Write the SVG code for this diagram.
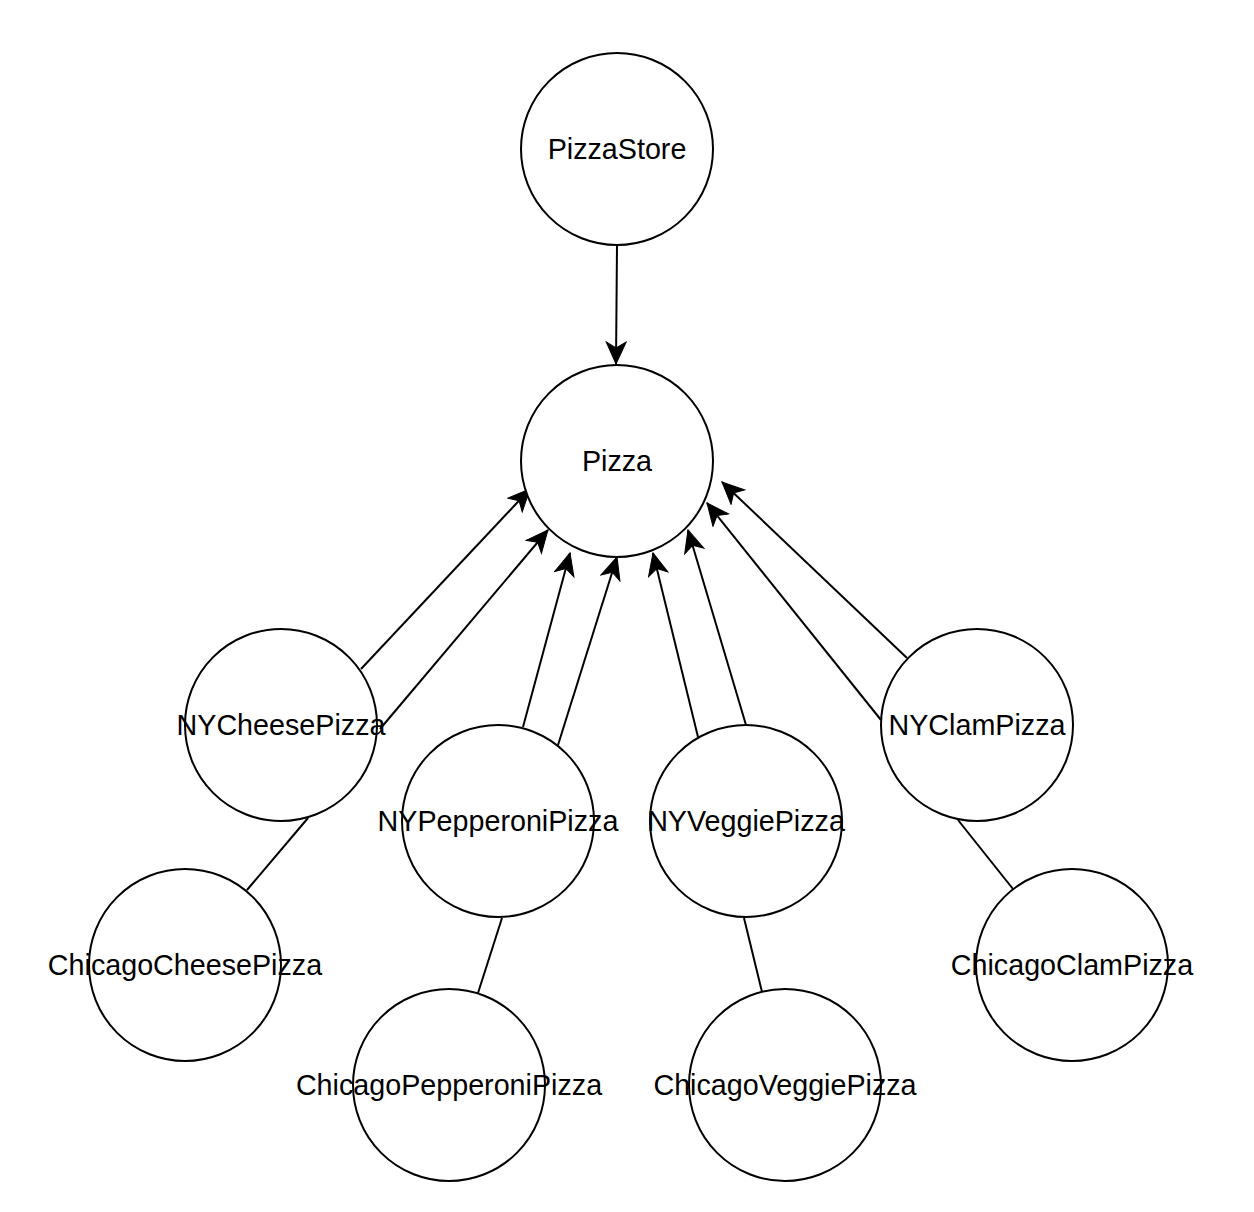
<svg xmlns="http://www.w3.org/2000/svg" width="1254" height="1212" viewBox="0 0 1254 1212">
<style>
.n{fill:#fff;stroke:#000;stroke-width:2}
.t{font-family:"Liberation Sans",Arial,sans-serif;font-size:28.7px;fill:#000;text-anchor:middle}
.e{stroke:#000;stroke-width:2;fill:none}
.a{marker-end:url(#arr)}
</style>
<defs>
<marker id="arr" markerUnits="userSpaceOnUse" markerWidth="24" markerHeight="22" viewBox="0 0 24 22" refX="23" refY="11" orient="auto">
<path d="M1,1 L23,11 L1,21 L7,11 Z" fill="#000" stroke="#000" stroke-width="1"/>
</marker>
</defs>
<rect width="1254" height="1212" fill="#fff"/>
<g id="connectors">
<path class="e a" d="M617,245 L616,364"/>
<path class="e a" d="M361,669 L530,489"/>
<path class="e a" d="M380,729 L548,530"/>
<path class="e a" d="M523,727 L570,553"/>
<path class="e a" d="M558,745 L617,557"/>
<path class="e a" d="M698,737 L653,553"/>
<path class="e a" d="M746,725 L688,530"/>
<path class="e a" d="M907,658 L722,482"/>
<path class="e a" d="M881,720 L707,503"/>
<path class="e" d="M308,818 L247,890"/>
<path class="e" d="M502,918 L478,993"/>
<path class="e" d="M744,918 L762,992"/>
<path class="e" d="M958,820 L1013,889"/>
</g>
<g id="PizzaStore"><circle class="n" cx="617" cy="149" r="96"/><text class="t" x="617" y="159">PizzaStore</text></g>
<g id="Pizza"><circle class="n" cx="617" cy="461" r="96"/><text class="t" x="617" y="471">Pizza</text></g>
<g id="NYCheesePizza"><circle class="n" cx="281" cy="725" r="96"/><text class="t" x="281" y="735">NYCheesePizza</text></g>
<g id="NYPepperoniPizza"><circle class="n" cx="498" cy="821" r="96"/><text class="t" x="498" y="831">NYPepperoniPizza</text></g>
<g id="NYVeggiePizza"><circle class="n" cx="746" cy="821" r="96"/><text class="t" x="746" y="831">NYVeggiePizza</text></g>
<g id="NYClamPizza"><circle class="n" cx="977" cy="725" r="96"/><text class="t" x="977" y="735">NYClamPizza</text></g>
<g id="ChicagoCheesePizza"><circle class="n" cx="185" cy="965" r="96"/><text class="t" x="185" y="975">ChicagoCheesePizza</text></g>
<g id="ChicagoPepperoniPizza"><circle class="n" cx="449" cy="1085" r="96"/><text class="t" x="449" y="1095">ChicagoPepperoniPizza</text></g>
<g id="ChicagoVeggiePizza"><circle class="n" cx="785" cy="1085" r="96"/><text class="t" x="785" y="1095">ChicagoVeggiePizza</text></g>
<g id="ChicagoClamPizza"><circle class="n" cx="1072" cy="965" r="96"/><text class="t" x="1072" y="975">ChicagoClamPizza</text></g>
</svg>
